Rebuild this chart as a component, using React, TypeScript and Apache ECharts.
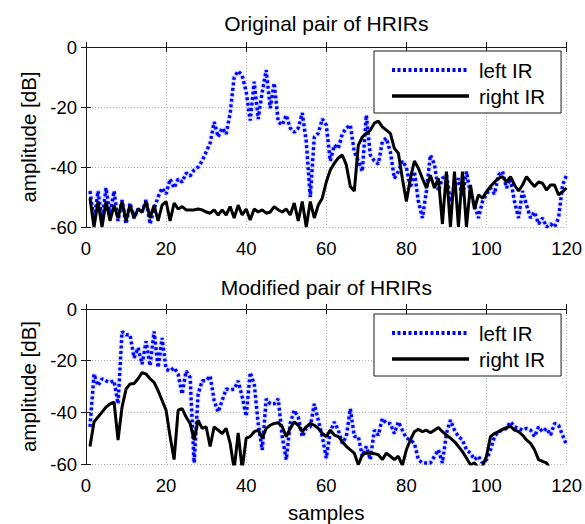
import React, { useEffect, useRef } from "react";
import * as echarts from "echarts";

const X_TICKS = [0, 20, 40, 60, 80, 100, 120];
const Y_TICKS = [-60, -40, -20, 0];
const TITLES = ["Original pair of HRIRs", "Modified pair of HRIRs"];
const SERIES_NAMES = ["left IR", "right IR"];

// amplitude [dB] for samples 1..120
const origLeft = [
  -48, -58, -48, -58, -47, -56, -48, -58, -51, -59, -52, -57, -54, -55, -51, -59, -54, -50, -47, -49,
  -44, -47, -44, -45, -42, -43, -41, -40, -38, -35, -32, -25, -30, -27, -29, -22, -10, -8, -9.5, -15,
  -24.5, -11.6, -24, -15, -7.7, -20.4, -12, -25, -26, -22.7, -27, -28.4, -27, -22, -31.5, -50, -30, -28.8, -24, -26,
  -38, -32.7, -33.8, -29, -27, -26, -35, -38, -41.5, -22.7, -36, -38, -39, -31.5, -30.4, -35, -43.8, -41.5, -38, -40,
  -47, -41.5, -51.5, -57, -48, -36, -39, -48, -43.8, -42.7, -51.5, -47, -43.8, -50, -41.5, -49, -52.7, -57, -51.5, -49,
  -47, -49, -42.7, -41.5, -47, -43.8, -51.5, -57, -48, -52.7, -57, -55, -59, -57, -60, -59, -60, -57, -46, -42.7,
];
const origRight = [
  -50.4, -60, -51.5, -60, -51.5, -58, -52.7, -57, -51.5, -58, -52.7, -57, -54, -55, -51.5, -57, -52.7, -58, -52.7, -51.5,
  -58, -52, -54, -53.2, -54.3, -54.3, -54.3, -54, -54.3, -55, -55.4, -54.3, -56, -54.3, -56, -53.2, -57, -52.7, -56, -54,
  -57.7, -54, -55, -54.3, -55.4, -55, -53.2, -54.3, -55, -54, -56, -52, -58, -51.5, -60, -51.5, -57, -52.7, -50.4, -45,
  -41, -38.8, -37, -36, -39.3, -46.5, -48, -32.7, -30, -28.8, -27.7, -25.4, -24.7, -26.6, -27.7, -28.8, -33.8, -35.4, -43.8, -51.5,
  -43.8, -38, -40.4, -43.8, -47, -42.7, -47, -43.8, -59, -41.5, -60, -41.5, -60, -41.5, -60, -46, -54, -49.3, -50.4, -48.2,
  -46.5, -45, -43.8, -43.2, -45, -43.2, -46, -48, -46, -43.2, -45, -46.5, -45, -45.4, -47.7, -46, -46, -49.3, -48.2, -47,
];
const modLeft = [
  -45.6, -25.2, -29.7, -27, -27.8, -28.4, -27.8, -36.7, -8.7, -10, -10, -18.9, -15, -21.4, -12.5, -22, -8.7, -22.7, -11.2, -23.3,
  -24, -22.7, -25.2, -32.9, -24, -26.5, -59.6, -32.9, -27.8, -27.8, -25.9, -35.4, -39.9, -35.4, -31, -31.3, -31, -27.8, -34, -41.5,
  -24.6, -29, -44.3, -54.5, -34.8, -36.7, -36.7, -34.8, -49.4, -58.3, -44.3, -39.2, -41.8, -49.4, -46.2, -45.6, -36.7, -43, -49.4, -57.7,
  -47.5, -43.7, -46.9, -52, -49.4, -38.6, -49.4, -49.4, -57, -53.2, -58.3, -46.9, -48.8, -42.4, -44.3, -44.3, -48.2, -43.7, -46.9, -50,
  -50.7, -52, -58.3, -59.6, -59.6, -59.6, -57, -54.5, -59.6, -48.2, -43, -46.9, -49.4, -50.7, -54.5, -55.8, -58.3, -57, -59.6, -58.3,
  -54.5, -49.4, -47.5, -46.9, -46.2, -43.7, -45.6, -46.2, -46.9, -46.2, -46.9, -49.4, -45.6, -47.5, -46.2, -48.8, -44.3, -45, -48.8, -52.6,
];
const modRight = [
  -53.2, -43.7, -41.8, -39.9, -38, -36.7, -36, -50.7, -38, -31, -29, -28.8, -27, -24.6, -25.2, -27, -28.4, -31.6, -35.4, -39.2,
  -49.4, -58.3, -39.2, -38.6, -41.8, -44.3, -50.7, -43, -46.2, -45.6, -53.2, -45.6, -46.9, -48.2, -46.2, -52, -62, -48, -62, -50,
  -49.4, -47.5, -46.9, -50, -46.2, -45, -44.3, -44, -45.6, -49.4, -46.2, -43.7, -45, -47.5, -45.6, -44.3, -45, -46.2, -48.2, -49.4,
  -46.9, -48.8, -49.4, -51.3, -53.2, -54.5, -55.8, -60.3, -56.4, -55.8, -55.8, -56, -56.4, -58.3, -55.8, -57, -58.3, -57, -60.5, -54.5,
  -50.7, -47.5, -46.6, -47.5, -46.9, -47.9, -46.9, -45.9, -47.5, -48.8, -50, -51.3, -53.2, -55.2, -57.7, -60.3, -59.6, -61.5, -61, -57,
  -49.4, -48.2, -47.5, -46.6, -45.9, -45.4, -46.9, -47.5, -48.8, -50.7, -52, -54.5, -58.3, -59, -59.6, -62, -66, -68, -66, -70,
];

const FONT = "'Liberation Sans', Arial, Helvetica, sans-serif";
const AXIS_COLOR = "#1a1a1a";

const pairs = (vals: number[]) => vals.map((v, i) => [i + 1, v]);

export default function App() {
  const ref = useRef<HTMLDivElement>(null);
  useEffect(() => {
    if (!ref.current) return;
    const chart = echarts.init(ref.current, undefined, { renderer: "svg" });
    const grids = [
      { left: 86, top: 47, width: 481, height: 180 },
      { left: 86, top: 309, width: 481, height: 157 },
    ];
    const xMin = X_TICKS[0];
    const xMax = X_TICKS[X_TICKS.length - 1];
    const xInt = X_TICKS[1] - X_TICKS[0];
    const yMin = Y_TICKS[0];
    const yMax = Y_TICKS[Y_TICKS.length - 1];
    const yInt = Y_TICKS[1] - Y_TICKS[0];
    const lineAxis = { show: true, lineStyle: { color: AXIS_COLOR, width: 1 } };
    const tick = { show: true, inside: true, length: 5, lineStyle: { color: AXIS_COLOR } };
    const split = { show: true, lineStyle: { color: "#b0b0b0", type: [1, 2], width: 1 } };
    const label = { color: "#000", fontSize: 18.5, fontFamily: FONT };
    const nameStyle = { color: "#000", fontSize: 20.5, fontFamily: FONT };

    const xAxis: any[] = [];
    const yAxis: any[] = [];
    grids.forEach((_, g) => {
      xAxis.push({
        type: "value", gridIndex: g, position: "bottom", min: xMin, max: xMax, interval: xInt,
        axisLine: lineAxis, axisTick: tick, splitLine: split,
        axisLabel: { ...label, margin: 12 },
        name: g === 1 ? "samples" : "", nameLocation: "middle", nameGap: 38, nameTextStyle: nameStyle,
      });
      xAxis.push({
        type: "value", gridIndex: g, position: "top", min: xMin, max: xMax, interval: xInt,
        axisLine: lineAxis, axisTick: tick, splitLine: { show: false }, axisLabel: { show: false },
        name: TITLES[g], nameLocation: "middle", nameGap: g === 0 ? 13 : 11,
        nameTextStyle: { ...nameStyle, fontSize: 21 },
      });
      yAxis.push({
        type: "value", gridIndex: g, position: "left", min: yMin, max: yMax, interval: yInt,
        axisLine: lineAxis, axisTick: tick, splitLine: split,
        axisLabel: { ...label, margin: 9 },
        name: "amplitude [dB]", nameLocation: "middle", nameGap: 47, nameTextStyle: nameStyle,
      });
      yAxis.push({
        type: "value", gridIndex: g, position: "right", min: yMin, max: yMax, interval: yInt,
        axisLine: lineAxis, axisTick: tick, splitLine: { show: false }, axisLabel: { show: false },
      });
    });

    const blue = (data: number[], g: number) => ({
      type: "line", name: SERIES_NAMES[0], xAxisIndex: g * 2, yAxisIndex: g * 2,
      data: pairs(data), symbol: "none", showSymbol: false, clip: true,
      lineStyle: { color: "#0000ff", width: 3.5, type: [3, 2.5], shadowColor: "rgba(110,130,255,0.8)", shadowBlur: 2 },
      itemStyle: { color: "#0000ff" }, z: 3,
    });
    const black = (data: number[], g: number) => ({
      type: "line", name: SERIES_NAMES[1], xAxisIndex: g * 2, yAxisIndex: g * 2,
      data: pairs(data), symbol: "none", showSymbol: false, clip: true,
      lineStyle: { color: "#000", width: 3 },
      itemStyle: { color: "#000" }, z: 4,
    });

    const legendBase = {
      data: [
        { name: SERIES_NAMES[0], lineStyle: { width: 4, color: "#0000ff", type: [3, 2.5] } },
        { name: SERIES_NAMES[1], lineStyle: { width: 3.5, color: "#000", type: "solid" } },
      ],
      orient: "vertical", left: 374, selectedMode: false,
      itemWidth: 77, itemHeight: 14, itemGap: 4, padding: [8, 16, 6, 16],
      borderColor: AXIS_COLOR, borderWidth: 1, backgroundColor: "#fff", borderRadius: 0,
      itemStyle: { color: "transparent", borderWidth: 0, opacity: 0 },
      textStyle: { color: "#000", fontSize: 20.5, fontFamily: FONT, lineHeight: 22, padding: [0, 0, 0, 5] },
      z: 10,
    };

    chart.setOption({
      animation: false,
      backgroundColor: "#fff",
      textStyle: { fontFamily: FONT },
      grid: grids.map((g) => ({ ...g, show: false, containLabel: false })),
      xAxis,
      yAxis,
      legend: [
        { ...legendBase, top: 51 },
        { ...legendBase, top: 314 },
      ],
      series: [blue(origLeft, 0), black(origRight, 0), blue(modLeft, 1), black(modRight, 1)],
    });
    return () => chart.dispose();
  }, []);
  return (
    <div
      ref={ref}
      style={{ position: "absolute", left: 0, top: 0, width: 585, height: 524, background: "#fff" }}
    />
  );
}
